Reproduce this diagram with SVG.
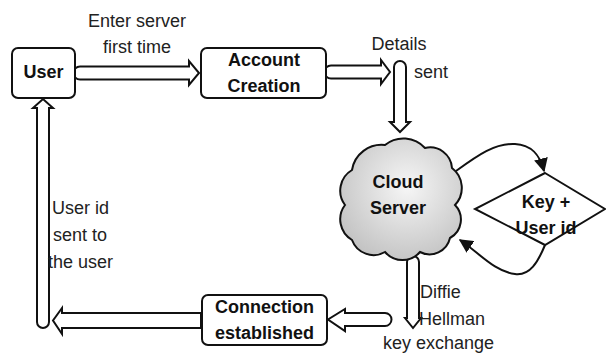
<svg xmlns="http://www.w3.org/2000/svg" width="606" height="356" viewBox="0 0 606 356">
<style>
.box{fill:#fff;stroke:#111;stroke-width:2}
.blk{fill:#fff;stroke:#111;stroke-width:2;stroke-linejoin:miter}
.lbl{font-family:"Liberation Sans",Arial,sans-serif;font-size:18px;fill:#222}
.nd{font-family:"Liberation Sans",Arial,sans-serif;font-size:18px;font-weight:bold;fill:#111;text-anchor:middle}
.cur{fill:none;stroke:#111;stroke-width:2}
</style>
<defs>
<radialGradient id="cg" cx="0.55" cy="0.4" r="0.65">
<stop offset="0" stop-color="#f6f6f6"/>
<stop offset="1" stop-color="#c2c2c2"/>
</radialGradient>
<marker id="ahb" viewBox="0 0 10 10" refX="9" refY="5" markerWidth="14" markerHeight="14" markerUnits="userSpaceOnUse" orient="auto">
<path d="M0,0 L10,5 L0,10 Z" fill="#111"/>
</marker>
</defs>

<g id="connectors">
<path class="blk" d="M80,66.5 L189,66.5 L189,61 L199,73 L189,85 L189,79.5 L80,79.5 A6.5,6.5 0 0 1 80,66.5 Z"/>
<path class="blk" d="M331,65.5 L381,65.5 L381,60 L390,72 L381,84 L381,78.5 L331,78.5 A6.5,6.5 0 0 1 331,65.5 Z"/>
<path class="blk" d="M394,67 A6,6 0 0 1 406,67 L406,122 L410,122 L400,132 L390,122 L394,122 Z"/>
<path class="blk" d="M407,262 A6,6 0 0 1 419,262 L419,318 L421,318 L413,328 L405,318 L407,318 Z"/>
<path class="blk" d="M385,313 A6.5,6.5 0 0 1 385,326 L345,326 L345,331 L328,319.5 L345,309 L345,313 Z"/>
<path class="blk" d="M201,313 L62,313 L62,308 L53,320.5 L62,334 L62,328 L201,328 Z"/>
<path class="blk" d="M37,322 A6,6 0 0 0 49,322 L49,108 L53,108 L43,99 L33,108 L37,108 Z"/>
<path class="cur" d="M456,171 C478,155 495,143 515,144 C532,145 540,155 544,171" marker-end="url(#ahb)"/>
<path class="cur" d="M545,245 C538,262 530,276 515,274 C495,272 478,252 460,240" marker-end="url(#ahb)"/>
</g>

<g id="user">
<rect class="box" x="12" y="48" width="63" height="50" rx="6"/>
<text class="nd" x="43.5" y="78">User</text>
</g>

<g id="account">
<rect class="box" x="201" y="48" width="125" height="50" rx="6"/>
<text class="nd" x="264" y="66">Account</text>
<text class="nd" x="264" y="92">Creation</text>
</g>

<g id="cloud">
<path d="M345,205 A24,24 0 0 1 352,170 A30,30 0 0 1 385,145 A29,29 0 0 1 425,148 A22,22 0 0 1 452,168 A25,25 0 0 1 455,205 A21,21 0 0 1 450,238 A21,21 0 0 1 420,252 A23,23 0 0 1 385,252 A23,23 0 0 1 352,240 A24,24 0 0 1 345,205 Z" fill="url(#cg)" stroke="#111" stroke-width="2"/>
<text class="nd" x="398" y="188">Cloud</text>
<text class="nd" x="398" y="214">Server</text>
</g>

<g id="keyuser">
<path d="M545,173 L605,209 L545,245 L475,209 Z" fill="none" stroke="#111" stroke-width="2"/>
<text class="nd" x="546" y="208">Key +</text>
<text class="nd" x="546" y="234">User id</text>
</g>

<g id="connection">
<rect class="box" x="202" y="295" width="125" height="50" rx="6"/>
<text class="nd" x="264.5" y="313">Connection</text>
<text class="nd" x="264.5" y="339">established</text>
</g>

<g id="labels">
<text class="lbl" x="137" y="27" text-anchor="middle">Enter server</text>
<text class="lbl" x="137" y="53" text-anchor="middle">first time</text>
<text class="lbl" x="399" y="50" text-anchor="middle">Details</text>
<text class="lbl" x="414" y="78">sent</text>
<text class="lbl" x="420" y="298">Diffie</text>
<text class="lbl" x="419" y="325">Hellman</text>
<text class="lbl" x="383" y="349">key exchange</text>
<text class="lbl" x="52" y="214">User id</text>
<text class="lbl" x="53" y="241">sent to</text>
<text class="lbl" x="48" y="268">the user</text>
</g>
</svg>
